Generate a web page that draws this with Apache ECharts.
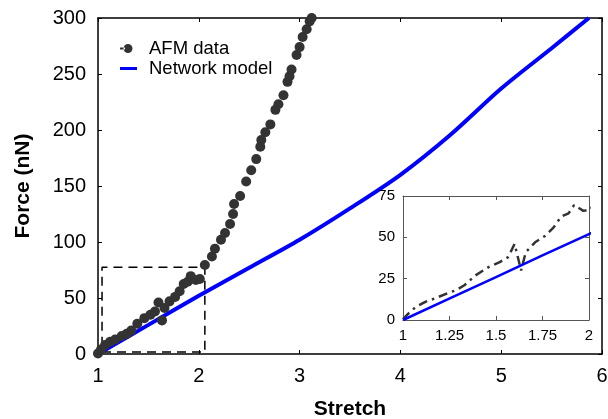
<!DOCTYPE html>
<html>
<head>
<meta charset="utf-8">
<script src="https://cdn.jsdelivr.net/npm/echarts@6/dist/echarts.min.js"></script>
<style>html,body{margin:0;padding:0;background:#fff}#c{width:608px;height:419px}</style>
</head>
<body>
<div id="c"></div>
<script>
// AFM data (stretch, force nN)
const afmX = [1.00,1.03,1.07,1.12,1.17,1.235,1.285,1.33,1.39,1.46,1.52,1.565,1.60,1.635,1.66,1.71,1.765,1.81,1.85,1.89,1.92,1.97,2.01,2.06,2.13,2.16,2.22,2.26,2.31,2.34,2.35,2.41,2.47,2.52,2.57,2.61,2.62,2.66,2.71,2.76,2.79,2.84,2.88,2.90,2.92,2.97,3.00,3.03,3.07,3.10,3.12];
const afmY = [0.5,4,8,11,13,16,18,21,27,32,35,38,46,30,41,47,51,56,62.5,64.5,69.5,66,67,79.5,87,94,102,108,116,125,134,141,154,164,174,185,191,198,205,218,223,231,243,248,254,267,274,283,290,297,300];
// Network model
const modelX = [1.00,1.50,2.00,2.50,3.00,3.50,4.00,4.50,5.00,5.50,5.87];
const modelY = [0,26,52,77,102,130,160,196,237,273,300];
// zoom box
const boxX = [1.04,2.06,2.06,1.04,1.04];
const boxY = [1.8,1.8,77.5,77.5,1.8];
// ticks
const mainXTicks = [1,2,3,4,5,6];
const mainYTicks = [0,50,100,150,200,250,300];
const insetXTicks = [1,1.25,1.5,1.75,2];
const insetYTicks = [0,25,50,75];

const zip = (a,b) => a.map((v,i)=>[v,b[i]]);
const afm = zip(afmX, afmY);
const model = zip(modelX, modelY);
const box = zip(boxX, boxY);

const FONT = 'Liberation Sans, Arial, sans-serif';
const chart = echarts.init(document.getElementById('c'), null, {renderer:'canvas'});

function mkX(grid, min, max, interval, pos, fs, show, lineColor, lw){
  return {type:'value', gridIndex:grid, min:min, max:max, interval:interval, position:pos,
    axisLine:{show:true, onZero:false, lineStyle:{color:lineColor, width:lw}},
    axisTick:{show:true, inside:true, length:4, lineStyle:{color:lineColor, width:1}},
    axisLabel:{show:show, color:'#000', fontSize:fs, fontFamily:FONT, margin:show?(fs>16?12:8):0,
      formatter: v => String(v)},
    splitLine:{show:false}};
}
const mainLabelFs = 20, insetFs = 15;

const option = {
  animation:false,
  backgroundColor:'#fff',
  grid:[
    {left:98, top:18, right:6, bottom:65, containLabel:false, outerBoundsMode:'none'},
    {left:403, top:196, width:186, height:124, show:true, backgroundColor:'#fff', borderWidth:0, z:5, containLabel:false, outerBoundsMode:'none'}
  ],
  legend:{
    orient:'vertical', left:120, top:39, padding:0, itemWidth:24, itemHeight:10, itemGap:1,
    textStyle:{fontSize:18.5, fontFamily:FONT, color:'#000'},
    data:[
      {name:'AFM data', icon:'path://M0,0 L0.01,0 L0,0.01 Z M24,10 L23.99,10 L24,9.99 Z M0,4.1 L5,4.1 L5,5.9 L0,5.9 Z M3.5,5 A4.5,4.5 0 1,0 12.5,5 A4.5,4.5 0 1,0 3.5,5 Z'},
      {name:'Network model', icon:'path://M0,0 L0.01,0 L0,0.01 Z M24,10 L23.99,10 L24,9.99 Z M0,3.5 L17,3.5 L17,6.5 L0,6.5 Z'}
    ]
  },
  xAxis:[
    Object.assign(mkX(0,1,6,1,'bottom',mainLabelFs,true,'#000',1.5),{
      name:'Stretch', nameLocation:'middle', nameGap:45,
      nameTextStyle:{fontSize:21, fontWeight:'bold', fontFamily:FONT, color:'#000'}}),
    mkX(0,1,6,1,'top',mainLabelFs,false,'#000',1.5),
    Object.assign(mkX(1,1,2,0.25,'bottom',insetFs,true,'#555',1),{z:6}),
    Object.assign(mkX(1,1,2,0.25,'top',insetFs,false,'#555',1),{z:6})
  ],
  yAxis:[
    Object.assign(mkX(0,0,300,50,'left',mainLabelFs,true,'#000',1.5),{
      name:'Force (nN)', nameLocation:'middle', nameGap:64,
      nameTextStyle:{fontSize:21, fontWeight:'bold', fontFamily:FONT, color:'#000'}}),
    mkX(0,0,300,50,'right',mainLabelFs,false,'#000',1.5),
    Object.assign(mkX(1,0,75,25,'left',insetFs,true,'#555',1),{z:6}),
    Object.assign(mkX(1,0,75,25,'right',insetFs,false,'#555',1),{z:6})
  ],
  series:[
    {name:'Box', type:'line', xAxisIndex:0, yAxisIndex:0, data:box, symbol:'none',
      lineStyle:{color:'#000', width:1.5, type:[9,6]}, z:1, silent:true},
    {name:'Network model', type:'line', xAxisIndex:0, yAxisIndex:0, data:model, symbol:'none', smooth:0.3,
      lineStyle:{color:'#0000ff', width:4}, itemStyle:{color:'#0000ff'}, z:2},
    {name:'AFM data', type:'scatter', xAxisIndex:0, yAxisIndex:0, data:afm, symbol:'circle', symbolSize:10,
      itemStyle:{color:'#333333', opacity:1}, z:3},
    {name:'AFM data', type:'line', xAxisIndex:2, yAxisIndex:2, data:afm, symbol:'none',
      lineStyle:{color:'#333333', width:2.5, type:[9,5,2.5,5]}, itemStyle:{color:'#333333'}, z:7, clip:true},
    {name:'Network model', type:'line', xAxisIndex:2, yAxisIndex:2, data:model, symbol:'none', smooth:0.3,
      lineStyle:{color:'#0000ff', width:2.5}, itemStyle:{color:'#0000ff'}, z:7, clip:true}
  ]
};
chart.setOption(option);
</script>
</body>
</html>
